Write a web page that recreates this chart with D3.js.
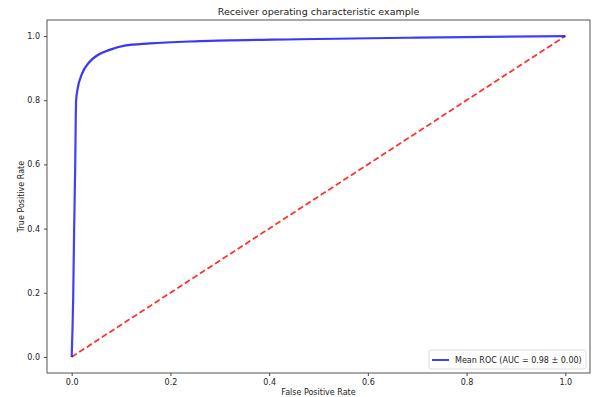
<!DOCTYPE html>
<html>
<head>
<meta charset="utf-8">
<script src="https://cdnjs.cloudflare.com/ajax/libs/d3/7.8.5/d3.min.js"></script>
<style>
  body { margin: 0; background: #fff; }
  svg text { font-family: "DejaVu Sans", sans-serif; fill: #222; }
</style>
</head>
<body>
<div id="chart"></div>
<script>
// mean ROC curve
const meanFpr = [0, 0.003, 0.005, 0.007, 0.009, 0.012, 0.02, 0.036, 0.053, 0.077, 0.107, 0.158, 0.259, 0.461, 0.7, 1.0];
const meanTpr = [0, 0.18, 0.40, 0.58, 0.80, 0.835, 0.879, 0.919, 0.941, 0.957, 0.970, 0.977, 0.984, 0.990, 0.995, 1.0];
// standard deviation band around the mean
const stdTpr = [0, 0.01, 0.012, 0.012, 0.01, 0.009, 0.008, 0.006, 0.005, 0.004, 0.003, 0.003, 0.002, 0.002, 0.001, 0];
const chanceLine = [[0, 0], [1, 1]];
const ticks = [0, 0.2, 0.4, 0.6, 0.8, 1.0];
const legendLabel = "Mean ROC (AUC = 0.98 \u00b1 0.00)";

// set dimensions
const width = 592,
    height = 397,
    margin = { top: 20, right: 2, bottom: 24, left: 47 };

const svg = d3.select("#chart")
    .append("svg")
    .attr("width", width)
    .attr("height", height);

const x = d3.scaleLinear().domain([-0.05, 1.05]).range([margin.left, width - margin.right]);
const y = d3.scaleLinear().domain([-0.05, 1.05]).range([height - margin.bottom, margin.top]);

const points = meanFpr.map((f, i) => ({ f: f, t: meanTpr[i], s: stdTpr[i] }));

// std band
svg.append("path")
    .datum(points)
    .attr("fill", "#999")
    .attr("opacity", 0.35)
    .attr("d", d3.area()
        .x(d => x(d.f))
        .y0(d => y(Math.max(d.t - d.s, 0)))
        .y1(d => y(Math.min(d.t + d.s, 1)))
        .curve(d3.curveMonotoneX));

// chance line
svg.append("path")
    .datum(chanceLine)
    .attr("fill", "none")
    .attr("stroke", "#ff0000")
    .attr("stroke-opacity", 0.8)
    .attr("stroke-width", 1.8)
    .attr("stroke-dasharray", "6,3")
    .attr("d", d3.line().x(d => x(d[0])).y(d => y(d[1])));

// mean roc
svg.append("path")
    .datum(points)
    .attr("fill", "none")
    .attr("stroke", "#0000ff")
    .attr("stroke-opacity", 0.75)
    .attr("stroke-width", 2.2)
    .attr("stroke-linejoin", "round")
    .attr("d", d3.line().x(d => x(d.f)).y(d => y(d.t)).curve(d3.curveMonotoneX));

// axes
const xAxis = svg.append("g")
    .attr("transform", `translate(0,${height - margin.bottom})`)
    .call(d3.axisBottom(x).tickValues(ticks).tickFormat(d3.format(".1f")).tickSize(3).tickPadding(3));
const yAxis = svg.append("g")
    .attr("transform", `translate(${margin.left},0)`)
    .call(d3.axisLeft(y).tickValues(ticks).tickFormat(d3.format(".1f")).tickSize(3).tickPadding(4));

[xAxis, yAxis].forEach(a => {
    a.select(".domain").remove();
    a.selectAll(".tick line").attr("stroke", "#444");
    a.selectAll(".tick text").attr("font-size", 8).attr("fill", "#222").attr("font-family", "DejaVu Sans");
});

// frame
svg.append("rect")
    .attr("x", margin.left)
    .attr("y", margin.top)
    .attr("width", width - margin.left - margin.right)
    .attr("height", height - margin.top - margin.bottom)
    .attr("fill", "none")
    .attr("stroke", "#555")
    .attr("stroke-width", 1);

// title and labels
svg.append("text")
    .attr("x", (margin.left + width - margin.right) / 2)
    .attr("y", 15)
    .attr("text-anchor", "middle")
    .attr("font-size", 9.5)
    .text("Receiver operating characteristic example");

svg.append("text")
    .attr("x", (margin.left + width - margin.right) / 2)
    .attr("y", 395)
    .attr("text-anchor", "middle")
    .attr("font-size", 8)
    .text("False Positive Rate");

svg.append("text")
    .attr("transform", `translate(24,${(margin.top + height - margin.bottom) / 2}) rotate(-90)`)
    .attr("text-anchor", "middle")
    .attr("font-size", 8)
    .text("True Positive Rate");

// legend
const legend = svg.append("g").attr("transform", "translate(429,350)");
legend.append("rect")
    .attr("width", 157)
    .attr("height", 19)
    .attr("rx", 2)
    .attr("fill", "#fff")
    .attr("fill-opacity", 0.8)
    .attr("stroke", "#ddd");
legend.append("line")
    .attr("x1", 3).attr("x2", 20)
    .attr("y1", 10).attr("y2", 10)
    .attr("stroke", "#0000ff")
    .attr("stroke-opacity", 0.75)
    .attr("stroke-width", 2);
legend.append("text")
    .attr("x", 26)
    .attr("y", 13)
    .attr("font-size", 8)
    .text(legendLabel);
</script>
</body>
</html>
